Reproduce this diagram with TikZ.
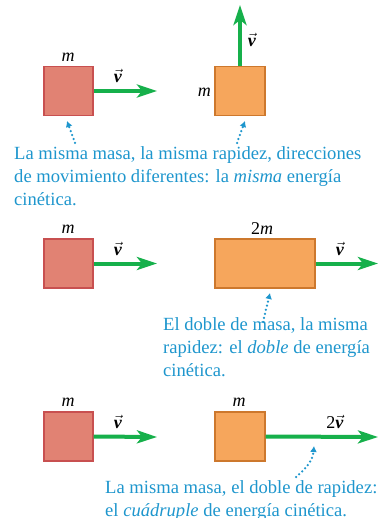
\documentclass[tikz,border=0pt]{standalone}
\usepackage{fontspec}
\usepackage{amsmath}
\setmainfont{Liberation Serif}
\usetikzlibrary{arrows.meta}
\definecolor{redfill}{HTML}{E18273}
\definecolor{redline}{HTML}{C85050}
\definecolor{orfill}{HTML}{F6A65C}
\definecolor{orline}{HTML}{CD782D}
\definecolor{vgreen}{HTML}{16B04B}
\definecolor{capblue}{HTML}{1E96CD}
\newcommand{\vv}{$\vec{\text{\textbf{\textit{v}}}}$}
\begin{document}
\begin{tikzpicture}[x=1pt,y=-1pt,
  redbox/.style={draw=redline,fill=redfill,line width=1.2pt,minimum width=49pt,minimum height=49pt,inner sep=0pt},
  orbox/.style={draw=orline,fill=orfill,line width=1.2pt,minimum height=49pt,inner sep=0pt},
  vel/.style={draw=vgreen,line width=4pt,-{Stealth[length=20pt,width=13pt,inset=5pt]}},
  lbl/.style={font=\fontsize{18}{20}\selectfont,inner sep=0pt},
  captxt/.style={text=capblue,font=\fontsize{18.6}{23}\selectfont,align=left,anchor=north west,inner sep=0pt},
  ptr/.style={draw=capblue,line width=2.5pt,line cap=round,dash pattern=on 0pt off 4.2pt,-{Latex[length=6pt,width=7pt]}}]
\useasboundingbox (0,0) rectangle (383,518);
% Row 1
\node[redbox] (r1) at (68.5,91) {};
\node[orbox,minimum width=50pt] (o1) at (240,91) {};
\coordinate (r1t) at (157,91);
\coordinate (o1t) at (240,5);
\draw[vel] (r1.east) -- (r1t);
\draw[vel] (o1.north) -- (o1t);
\node[lbl] (m1) at (68,57) {\textit{m}};
\node[lbl] (v1) at (118,76) {\vv};
\node[lbl,anchor=east] (m2) at (211,92) {\textit{m}};
\node[lbl] (v2) at (252,40) {\vv};
\node[captxt] (t1) at (14,146) {La misma masa, la misma rapidez, direcciones\\de movimiento diferentes: la \textit{misma} energía\\cinética.};
\coordinate (a1s) at (75,143); \coordinate (a1e) at (67,121);
\coordinate (a2s) at (237,143); \coordinate (a2e) at (245,121);
\draw[ptr] (a1s) -- (a1e);
\draw[ptr] (a2s) -- (a2e);
% Row 2
\node[redbox] (r2) at (68.5,263.5) {};
\node[orbox,minimum width=100pt] (o2) at (265,263.5) {};
\coordinate (r2t) at (157,263.5);
\coordinate (o2t) at (378,263.5);
\draw[vel] (r2.east) -- (r2t);
\draw[vel] (o2.east) -- (o2t);
\node[lbl] (m3) at (68,229) {\textit{m}};
\node[lbl] (v3) at (118,249) {\vv};
\node[lbl] (m4) at (262,229) {2\textit{m}};
\node[lbl] (v4) at (340,249) {\vv};
\node[captxt] (t2) at (163,317.5) {El doble de masa, la misma\\rapidez: el \textit{doble} de energía\\cinética.};
\coordinate (a3s) at (263,322); \coordinate (a3e) at (270,293);
\draw[ptr] (a3s) -- (a3e);
% Row 3
\node[redbox] (r3) at (68.5,436.5) {};
\node[orbox,minimum width=50pt] (o3) at (240,436.5) {};
\coordinate (r3t) at (157,437);
\coordinate (o3t) at (378,437);
\draw[vel] (r3.east) -- (r3t);
\draw[vel] (o3.east) -- (o3t);
\node[lbl] (m5) at (68,402) {\textit{m}};
\node[lbl] (v5) at (118,422) {\vv};
\node[lbl] (m6) at (239,402) {\textit{m}};
\node[lbl] (v6) at (335,422) {2\vv};
\node[captxt] (t3) at (105,480) {La misma masa, el doble de rapidez:\\el \textit{cuádruple} de energía cinética.};
\coordinate (a4s) at (296,477); \coordinate (a4e) at (314,446);
\draw[ptr] (a4s) to[out=40,in=-95] (a4e);
\end{tikzpicture}
\end{document}
